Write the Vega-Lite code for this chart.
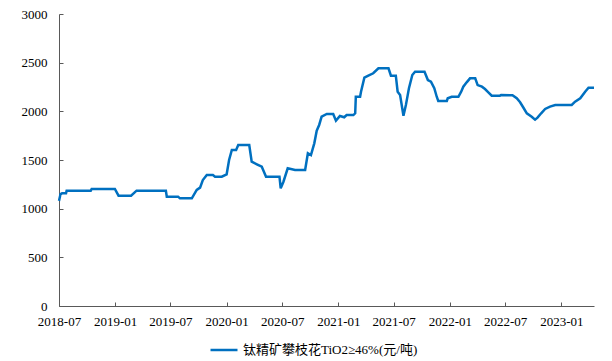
{
  "$schema": "https://vega.github.io/schema/vega-lite/v6.json",
  "width": 535,
  "height": 292,
  "autosize": "none",
  "padding": {"left": 59, "top": 14, "right": 18, "bottom": 55},
  "background": "white",
  "config": {
    "view": {"stroke": null},
    "font": "Liberation Serif",
    "axis": {"grid": false, "domainColor": "#595959", "tickColor": "#595959", "labelColor": "#000000", "labelFont": "Liberation Serif", "labelFontSize": 13, "title": null}
  },
  "data": {"values": [
    {"date": "2018-07-01", "value": 1080, "series": "钛精矿攀枝花TiO2≥46%(元/吨)"},
    {"date": "2018-07-06", "value": 1150, "series": "钛精矿攀枝花TiO2≥46%(元/吨)"},
    {"date": "2018-07-11", "value": 1158, "series": "钛精矿攀枝花TiO2≥46%(元/吨)"},
    {"date": "2018-07-24", "value": 1158, "series": "钛精矿攀枝花TiO2≥46%(元/吨)"},
    {"date": "2018-07-26", "value": 1185, "series": "钛精矿攀枝花TiO2≥46%(元/吨)"},
    {"date": "2018-10-13", "value": 1185, "series": "钛精矿攀枝花TiO2≥46%(元/吨)"},
    {"date": "2018-10-16", "value": 1202, "series": "钛精矿攀枝花TiO2≥46%(元/吨)"},
    {"date": "2018-12-31", "value": 1202, "series": "钛精矿攀枝花TiO2≥46%(元/吨)"},
    {"date": "2019-01-12", "value": 1133, "series": "钛精矿攀枝花TiO2≥46%(元/吨)"},
    {"date": "2019-02-22", "value": 1133, "series": "钛精矿攀枝花TiO2≥46%(元/吨)"},
    {"date": "2019-03-12", "value": 1185, "series": "钛精矿攀枝花TiO2≥46%(元/吨)"},
    {"date": "2019-06-16", "value": 1183, "series": "钛精矿攀枝花TiO2≥46%(元/吨)"},
    {"date": "2019-06-19", "value": 1123, "series": "钛精矿攀枝花TiO2≥46%(元/吨)"},
    {"date": "2019-07-26", "value": 1123, "series": "钛精矿攀枝花TiO2≥46%(元/吨)"},
    {"date": "2019-08-01", "value": 1106, "series": "钛精矿攀枝花TiO2≥46%(元/吨)"},
    {"date": "2019-09-09", "value": 1106, "series": "钛精矿攀枝花TiO2≥46%(元/吨)"},
    {"date": "2019-09-25", "value": 1192, "series": "钛精矿攀枝花TiO2≥46%(元/吨)"},
    {"date": "2019-10-06", "value": 1216, "series": "钛精矿攀枝花TiO2≥46%(元/吨)"},
    {"date": "2019-10-15", "value": 1294, "series": "钛精矿攀枝花TiO2≥46%(元/吨)"},
    {"date": "2019-10-28", "value": 1346, "series": "钛精矿攀枝花TiO2≥46%(元/吨)"},
    {"date": "2019-11-17", "value": 1346, "series": "钛精矿攀枝花TiO2≥46%(元/吨)"},
    {"date": "2019-11-24", "value": 1329, "series": "钛精矿攀枝花TiO2≥46%(元/吨)"},
    {"date": "2019-12-16", "value": 1329, "series": "钛精矿攀枝花TiO2≥46%(元/吨)"},
    {"date": "2020-01-01", "value": 1353, "series": "钛精矿攀枝花TiO2≥46%(元/吨)"},
    {"date": "2020-01-09", "value": 1500, "series": "钛精矿攀枝花TiO2≥46%(元/吨)"},
    {"date": "2020-01-18", "value": 1603, "series": "钛精矿攀枝花TiO2≥46%(元/吨)"},
    {"date": "2020-02-01", "value": 1603, "series": "钛精矿攀枝花TiO2≥46%(元/吨)"},
    {"date": "2020-02-08", "value": 1654, "series": "钛精矿攀枝花TiO2≥46%(元/吨)"},
    {"date": "2020-03-15", "value": 1654, "series": "钛精矿攀枝花TiO2≥46%(元/吨)"},
    {"date": "2020-03-23", "value": 1483, "series": "钛精矿攀枝花TiO2≥46%(元/吨)"},
    {"date": "2020-04-09", "value": 1456, "series": "钛精矿攀枝花TiO2≥46%(元/吨)"},
    {"date": "2020-04-25", "value": 1431, "series": "钛精矿攀枝花TiO2≥46%(元/吨)"},
    {"date": "2020-05-09", "value": 1329, "series": "钛精矿攀枝花TiO2≥46%(元/吨)"},
    {"date": "2020-06-22", "value": 1329, "series": "钛精矿攀枝花TiO2≥46%(元/吨)"},
    {"date": "2020-06-26", "value": 1209, "series": "钛精矿攀枝花TiO2≥46%(元/吨)"},
    {"date": "2020-07-05", "value": 1277, "series": "钛精矿攀枝花TiO2≥46%(元/吨)"},
    {"date": "2020-07-19", "value": 1415, "series": "钛精矿攀枝花TiO2≥46%(元/吨)"},
    {"date": "2020-08-12", "value": 1397, "series": "钛精矿攀枝花TiO2≥46%(元/吨)"},
    {"date": "2020-09-14", "value": 1397, "series": "钛精矿攀枝花TiO2≥46%(元/吨)"},
    {"date": "2020-09-23", "value": 1569, "series": "钛精矿攀枝花TiO2≥46%(元/吨)"},
    {"date": "2020-10-03", "value": 1551, "series": "钛精矿攀枝花TiO2≥46%(元/吨)"},
    {"date": "2020-10-14", "value": 1671, "series": "钛精矿攀枝花TiO2≥46%(元/吨)"},
    {"date": "2020-10-22", "value": 1801, "series": "钛精矿攀枝花TiO2≥46%(元/吨)"},
    {"date": "2020-10-30", "value": 1860, "series": "钛精矿攀枝花TiO2≥46%(元/吨)"},
    {"date": "2020-11-07", "value": 1945, "series": "钛精矿攀枝花TiO2≥46%(元/吨)"},
    {"date": "2020-11-24", "value": 1973, "series": "钛精矿攀枝花TiO2≥46%(元/吨)"},
    {"date": "2020-12-15", "value": 1973, "series": "钛精矿攀枝花TiO2≥46%(元/吨)"},
    {"date": "2020-12-24", "value": 1904, "series": "钛精矿攀枝花TiO2≥46%(元/吨)"},
    {"date": "2021-01-06", "value": 1952, "series": "钛精矿攀枝花TiO2≥46%(元/吨)"},
    {"date": "2021-01-20", "value": 1939, "series": "钛精矿攀枝花TiO2≥46%(元/吨)"},
    {"date": "2021-01-28", "value": 1962, "series": "钛精矿攀枝花TiO2≥46%(元/吨)"},
    {"date": "2021-02-19", "value": 1962, "series": "钛精矿攀枝花TiO2≥46%(元/吨)"},
    {"date": "2021-02-25", "value": 1980, "series": "钛精矿攀枝花TiO2≥46%(元/吨)"},
    {"date": "2021-02-27", "value": 2150, "series": "钛精矿攀枝花TiO2≥46%(元/吨)"},
    {"date": "2021-03-13", "value": 2150, "series": "钛精矿攀枝花TiO2≥46%(元/吨)"},
    {"date": "2021-03-16", "value": 2202, "series": "钛精矿攀枝花TiO2≥46%(元/吨)"},
    {"date": "2021-03-27", "value": 2346, "series": "钛精矿攀枝花TiO2≥46%(元/吨)"},
    {"date": "2021-04-09", "value": 2366, "series": "钛精矿攀枝花TiO2≥46%(元/吨)"},
    {"date": "2021-04-25", "value": 2391, "series": "钛精矿攀枝花TiO2≥46%(元/吨)"},
    {"date": "2021-05-12", "value": 2442, "series": "钛精矿攀枝花TiO2≥46%(元/吨)"},
    {"date": "2021-06-14", "value": 2442, "series": "钛精矿攀枝花TiO2≥46%(元/吨)"},
    {"date": "2021-06-22", "value": 2366, "series": "钛精矿攀枝花TiO2≥46%(元/吨)"},
    {"date": "2021-07-08", "value": 2366, "series": "钛精矿攀枝花TiO2≥46%(元/吨)"},
    {"date": "2021-07-14", "value": 2202, "series": "钛精矿攀枝花TiO2≥46%(元/吨)"},
    {"date": "2021-07-22", "value": 2168, "series": "钛精矿攀枝花TiO2≥46%(元/吨)"},
    {"date": "2021-08-02", "value": 1955, "series": "钛精矿攀枝花TiO2≥46%(元/吨)"},
    {"date": "2021-08-10", "value": 2065, "series": "钛精矿攀枝花TiO2≥46%(元/吨)"},
    {"date": "2021-08-20", "value": 2237, "series": "钛精矿攀枝花TiO2≥46%(元/吨)"},
    {"date": "2021-08-31", "value": 2373, "series": "钛精矿攀枝花TiO2≥46%(元/吨)"},
    {"date": "2021-09-09", "value": 2407, "series": "钛精矿攀枝花TiO2≥46%(元/吨)"},
    {"date": "2021-10-10", "value": 2407, "series": "钛精矿攀枝花TiO2≥46%(元/吨)"},
    {"date": "2021-10-21", "value": 2322, "series": "钛精矿攀枝花TiO2≥46%(元/吨)"},
    {"date": "2021-10-31", "value": 2305, "series": "钛精矿攀枝花TiO2≥46%(元/吨)"},
    {"date": "2021-11-11", "value": 2237, "series": "钛精矿攀枝花TiO2≥46%(元/吨)"},
    {"date": "2021-11-19", "value": 2150, "series": "钛精矿攀枝花TiO2≥46%(元/吨)"},
    {"date": "2021-11-24", "value": 2106, "series": "钛精矿攀枝花TiO2≥46%(元/吨)"},
    {"date": "2021-12-22", "value": 2106, "series": "钛精矿攀枝花TiO2≥46%(元/吨)"},
    {"date": "2021-12-25", "value": 2134, "series": "钛精矿攀枝花TiO2≥46%(元/吨)"},
    {"date": "2022-01-07", "value": 2150, "series": "钛精矿攀枝花TiO2≥46%(元/吨)"},
    {"date": "2022-01-29", "value": 2150, "series": "钛精矿攀枝花TiO2≥46%(元/吨)"},
    {"date": "2022-02-07", "value": 2202, "series": "钛精矿攀枝花TiO2≥46%(元/吨)"},
    {"date": "2022-02-14", "value": 2253, "series": "钛精矿攀枝花TiO2≥46%(元/吨)"},
    {"date": "2022-02-25", "value": 2298, "series": "钛精矿攀枝花TiO2≥46%(元/吨)"},
    {"date": "2022-03-08", "value": 2339, "series": "钛精矿攀枝花TiO2≥46%(元/吨)"},
    {"date": "2022-03-25", "value": 2339, "series": "钛精矿攀枝花TiO2≥46%(元/吨)"},
    {"date": "2022-04-02", "value": 2270, "series": "钛精矿攀枝花TiO2≥46%(元/吨)"},
    {"date": "2022-04-16", "value": 2253, "series": "钛精矿攀枝花TiO2≥46%(元/吨)"},
    {"date": "2022-04-26", "value": 2229, "series": "钛精矿攀枝花TiO2≥46%(元/吨)"},
    {"date": "2022-05-07", "value": 2195, "series": "钛精矿攀枝花TiO2≥46%(元/吨)"},
    {"date": "2022-05-18", "value": 2161, "series": "钛精矿攀枝花TiO2≥46%(元/吨)"},
    {"date": "2022-06-14", "value": 2161, "series": "钛精矿攀枝花TiO2≥46%(元/吨)"},
    {"date": "2022-06-18", "value": 2168, "series": "钛精矿攀枝花TiO2≥46%(元/吨)"},
    {"date": "2022-07-25", "value": 2165, "series": "钛精矿攀枝花TiO2≥46%(元/吨)"},
    {"date": "2022-08-08", "value": 2134, "series": "钛精矿攀枝花TiO2≥46%(元/吨)"},
    {"date": "2022-08-19", "value": 2093, "series": "钛精矿攀枝花TiO2≥46%(元/吨)"},
    {"date": "2022-08-30", "value": 2037, "series": "钛精矿攀枝花TiO2≥46%(元/吨)"},
    {"date": "2022-09-10", "value": 1980, "series": "钛精矿攀枝花TiO2≥46%(元/吨)"},
    {"date": "2022-09-26", "value": 1945, "series": "钛精矿攀枝花TiO2≥46%(元/吨)"},
    {"date": "2022-10-07", "value": 1915, "series": "钛精矿攀枝花TiO2≥46%(元/吨)"},
    {"date": "2022-10-15", "value": 1935, "series": "钛精矿攀枝花TiO2≥46%(元/吨)"},
    {"date": "2022-10-27", "value": 1980, "series": "钛精矿攀枝花TiO2≥46%(元/吨)"},
    {"date": "2022-11-09", "value": 2024, "series": "钛精矿攀枝花TiO2≥46%(元/吨)"},
    {"date": "2022-11-25", "value": 2048, "series": "钛精矿攀枝花TiO2≥46%(元/吨)"},
    {"date": "2022-12-12", "value": 2065, "series": "钛精矿攀枝花TiO2≥46%(元/吨)"},
    {"date": "2023-02-04", "value": 2065, "series": "钛精矿攀枝花TiO2≥46%(元/吨)"},
    {"date": "2023-02-15", "value": 2099, "series": "钛精矿攀枝花TiO2≥46%(元/吨)"},
    {"date": "2023-03-04", "value": 2134, "series": "钛精矿攀枝花TiO2≥46%(元/吨)"},
    {"date": "2023-03-20", "value": 2202, "series": "钛精矿攀枝花TiO2≥46%(元/吨)"},
    {"date": "2023-03-31", "value": 2243, "series": "钛精矿攀枝花TiO2≥46%(元/吨)"},
    {"date": "2023-04-18", "value": 2243, "series": "钛精矿攀枝花TiO2≥46%(元/吨)"}
  ]},
  "mark": {"type": "line", "strokeWidth": 2.5, "interpolate": "linear"},
  "encoding": {
    "x": {
      "field": "date", "type": "temporal",
      "scale": {"domain": ["2018-07-01T00:00:00", "2023-04-18T00:00:00"]},
      "axis": {
        "values": ["2018-07-01T00:00:00", "2019-01-01T00:00:00", "2019-07-01T00:00:00", "2020-01-01T00:00:00", "2020-07-01T00:00:00", "2021-01-01T00:00:00", "2021-07-01T00:00:00", "2022-01-01T00:00:00", "2022-07-01T00:00:00", "2023-01-01T00:00:00"],
        "format": "%Y-%m", "labelAngle": 0, "tickSize": -4, "labelPadding": 13, "labelFlush": false, "labelOverlap": false,
        "labelFont": "Liberation Serif", "labelFontSize": 13
      }
    },
    "y": {
      "field": "value", "type": "quantitative",
      "scale": {"domain": [0, 3000], "nice": false},
      "axis": {"values": [0, 500, 1000, 1500, 2000, 2500, 3000], "format": "d", "tickSize": -4, "labelPadding": 16, "labelFont": "Liberation Serif", "labelFontSize": 13}
    },
    "color": {
      "field": "series", "type": "nominal",
      "scale": {"range": ["#0070c0"]},
      "legend": {
        "title": null, "orient": "none", "legendX": 150, "legendY": 321,
        "symbolType": "stroke", "symbolSize": 729, "symbolStrokeWidth": 2.5, "labelLimit": 0,
        "labelFont": "Liberation Serif, Noto Sans CJK SC", "labelFontSize": 13, "labelColor": "#000000", "labelOffset": 4
      }
    }
  }
}
